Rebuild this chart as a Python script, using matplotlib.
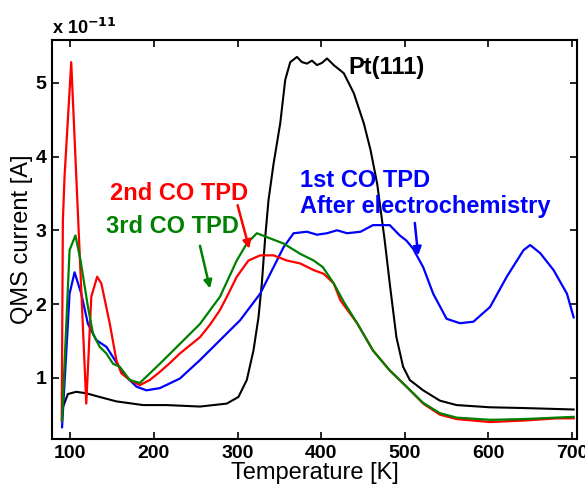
import numpy as np
import matplotlib.pyplot as plt

plt.rcParams['font.family'] = ['Liberation Sans', 'DejaVu Sans']

# Pt(111) reference (black)
t_pt = [91, 97, 107, 119, 135, 155, 187, 215, 255, 287, 301, 311, 319, 325, 329,
        333, 337, 343, 351, 357, 363, 371, 377, 383, 389, 395, 401, 407, 415, 427,
        439, 451, 459, 467, 476, 482, 490, 498, 506, 522, 542, 562, 602, 642, 702]
v_pt = [0.60, 0.78, 0.81, 0.79, 0.74, 0.68, 0.63, 0.63, 0.61, 0.65, 0.74, 0.97, 1.37, 1.82, 2.28,
        2.90, 3.41, 3.90, 4.45, 5.04, 5.28, 5.35, 5.28, 5.26, 5.30, 5.24, 5.27, 5.33, 5.24, 5.13,
        4.86, 4.45, 4.09, 3.63, 2.86, 2.28, 1.55, 1.15, 0.97, 0.83, 0.69, 0.63, 0.60, 0.59, 0.57]

# 1st CO TPD after electrochemistry (blue)
t_1st = [90, 99, 105, 113, 121, 131, 143, 151, 163, 179, 191, 207, 231, 255, 279,
         303, 327, 343, 355, 367, 383, 395, 407, 419, 431, 447, 462, 482, 494, 502,
         510, 522, 534, 550, 566, 582, 602, 622, 642, 650, 662, 678, 694, 702]
v_1st = [0.33, 2.14, 2.43, 2.14, 1.73, 1.51, 1.42, 1.28, 1.06, 0.88, 0.83, 0.86, 0.99, 1.24, 1.51,
         1.78, 2.14, 2.50, 2.77, 2.96, 2.98, 2.94, 2.96, 3.00, 2.96, 2.98, 3.07, 3.07, 2.93, 2.86,
         2.75, 2.50, 2.14, 1.80, 1.74, 1.76, 1.96, 2.37, 2.73, 2.80, 2.69, 2.46, 2.14, 1.82]

# 2nd CO TPD (red)
t_2nd = [89.6, 91, 93, 101, 119, 125, 132, 137, 147, 155, 161, 171, 183,
         195, 207, 219, 231, 243, 255, 267, 279, 289, 299, 313, 327, 343, 359, 375,
         391, 403, 415, 423, 443, 462, 482, 502, 522, 542, 562, 602, 642, 682, 702]
v_2nd = [0.42, 3.13, 3.73, 5.28, 0.65, 2.10, 2.37, 2.28, 1.74, 1.24, 1.06, 0.97, 0.90,
         0.97, 1.08, 1.20, 1.33, 1.44, 1.55, 1.72, 1.92, 2.14, 2.37, 2.59, 2.66, 2.66, 2.59, 2.55,
         2.46, 2.41, 2.28, 2.05, 1.74, 1.37, 1.10, 0.88, 0.65, 0.50, 0.44, 0.40, 0.42, 0.45, 0.45]

# 3rd CO TPD (green)
t_3rd = [90, 99, 106, 112, 121, 127, 135, 143, 151, 159, 171, 183, 195, 207, 231,
         255, 279, 299, 311, 323, 339, 355, 375, 391, 402, 415, 427, 443, 462, 482,
         502, 522, 542, 562, 602, 642, 682, 702]
v_3rd = [0.42, 2.73, 2.93, 2.60, 1.96, 1.60, 1.42, 1.33, 1.19, 1.15, 0.97, 0.93, 1.06, 1.19, 1.46,
         1.73, 2.10, 2.59, 2.82, 2.96, 2.89, 2.82, 2.68, 2.59, 2.50, 2.28, 2.03, 1.74, 1.37, 1.10,
         0.88, 0.66, 0.52, 0.46, 0.43, 0.44, 0.46, 0.47]

scale = 1e-11


def main():
    fig = plt.figure(figsize=(5.85, 4.86), dpi=100)
    ax = fig.add_axes([0.0889, 0.0967, 0.8974, 0.821])

    ax.plot(t_pt, np.array(v_pt) * scale, color="k", lw=1.5)
    ax.plot(t_1st, np.array(v_1st) * scale, color="b", lw=1.6)
    ax.plot(t_2nd, np.array(v_2nd) * scale, color="r", lw=1.6)
    ax.plot(t_3rd, np.array(v_3rd) * scale, color=(0, 0.5, 0), lw=1.6)

    ax.set_xlim(78, 706)
    ax.set_ylim(0.17 * scale, 5.58 * scale)
    ax.set_xticks([100, 200, 300, 400, 500, 600, 700])
    ax.set_yticks(np.array([1, 2, 3, 4, 5]) * scale)
    ax.set_yticklabels(["1", "2", "3", "4", "5"])
    ax.tick_params(direction="in", top=True, right=True, length=5, width=1.2,
                   labelsize=14, pad=4)
    for lab in ax.get_xticklabels() + ax.get_yticklabels():
        lab.set_fontweight("bold")
    for sp in ax.spines.values():
        sp.set_linewidth(1.5)

    ax.set_xlabel("Temperature [K]", fontsize=17, labelpad=0)
    ax.set_ylabel("QMS current [A]", fontsize=17, labelpad=2)
    ax.text(0.0, 1.005, r"x 10$^{\mathbf{-11}}$", transform=ax.transAxes,
            fontsize=13, fontweight="bold", va="bottom", ha="left")

    tf = dict(fontsize=17, fontweight="bold", va="center", ha="left")
    ax.text(432, 5.21 * scale, "Pt(111)", color="k", **tf)
    ax.text(147, 3.5 * scale, "2nd CO TPD", color="r", **tf)
    ax.text(143, 3.05 * scale, "3rd CO TPD", color=(0, 0.5, 0), **tf)
    ax.text(375, 3.68 * scale, "1st CO TPD", color="b", **tf)
    ax.text(375, 3.32 * scale, "After electrochemistry", color="b", **tf)

    def arrow(x0, y0, x1, y1, c):
        ax.annotate("", xy=(x1, y1 * scale), xytext=(x0, y0 * scale),
                    arrowprops=dict(arrowstyle="-|>", color=c, lw=1.8,
                                    mutation_scale=12, shrinkA=0, shrinkB=0))

    arrow(300, 3.34, 314, 2.75, "r")
    arrow(255, 2.79, 267, 2.21, (0, 0.5, 0))
    arrow(512, 3.10, 516, 2.66, "b")

    fig.savefig("out.png", dpi=100)


if __name__ == "__main__":
    main()
